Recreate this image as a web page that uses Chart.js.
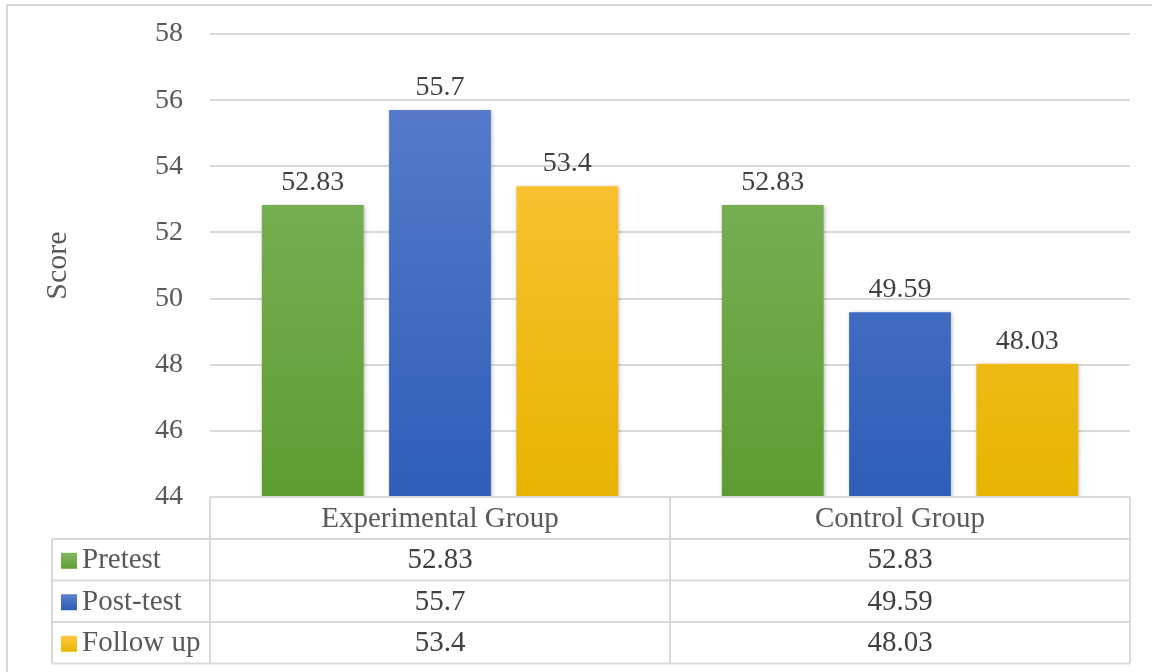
<!DOCTYPE html>
<html>
<head>
<meta charset="utf-8">
<script src="https://cdn.jsdelivr.net/npm/chart.js@4"></script>
<style>
  html, body { margin: 0; padding: 0; background: #fff; }
  #wrap { width: 1152px; height: 672px; position: relative; }
</style>
</head>
<body>
<div id="wrap"><canvas id="scores"></canvas></div>
<script>
// data
const groups = ['Experimental Group', 'Control Group'];
const seriesNames = ['Pretest', 'Post-test', 'Follow up'];
const pretest = [52.83, 52.83];
const posttest = [55.7, 49.59];
const followUp = [53.4, 48.03];
const yTicks = [44, 46, 48, 50, 52, 54, 56, 58];

// colours (top, bottom of each bar gradient)
const palette = [
    ['#83b764', '#5e9d31'],
    ['#5c80cc', '#2e5eb8'],
    ['#ffc846', '#e8b400']
];
const gridColor = '#d9d9d9';
const textColor = '#595959';
const font = '"Liberation Serif", "Times New Roman", serif';

function barGradient(i) {
    return (ctx) => {
        const area = ctx.chart.chartArea;
        if (!area) return palette[i][1];
        const g = ctx.chart.ctx.createLinearGradient(0, area.top, 0, area.bottom);
        g.addColorStop(0, palette[i][0]);
        g.addColorStop(1, palette[i][1]);
        return g;
    };
}

// soft shadow on bars, then labels above them
const valueLabels = {
    id: 'valueLabels',
    beforeDatasetsDraw(chart) {
        const ctx = chart.ctx;
        ctx.save();
        ctx.shadowColor = 'rgba(0,0,0,0.25)';
        ctx.shadowBlur = 4;
        ctx.shadowOffsetX = 1;
        ctx.shadowOffsetY = 1;
    },
    afterDatasetsDraw(chart) {
        const ctx = chart.ctx;
        ctx.restore();
        ctx.save();
        ctx.font = '28px ' + font;
        ctx.fillStyle = '#404040';
        ctx.textAlign = 'center';
        ctx.textBaseline = 'bottom';
        chart.data.datasets.forEach((ds, i) => {
            chart.getDatasetMeta(i).data.forEach((bar, j) => {
                ctx.fillText(String(ds.data[j]), bar.x, bar.y - 8);
            });
        });
        ctx.restore();
    }
};

// data table under the plot + outer frame
const dataTable = {
    id: 'dataTable',
    afterDraw(chart) {
        const ctx = chart.ctx;
        const area = chart.chartArea;
        const x = chart.scales.x;
        const left = 52;
        const headH = 42;
        const rowH = 41.5;
        const top = area.bottom;
        const bottom = top + headH + rowH * seriesNames.length;
        const mid = (x.getPixelForValue(0) + x.getPixelForValue(1)) / 2;

        ctx.save();
        ctx.strokeStyle = gridColor;
        ctx.lineWidth = 2;

        // frame around the whole chart
        ctx.beginPath();
        ctx.moveTo(7, 672);
        ctx.lineTo(7, 5);
        ctx.lineTo(1152, 5);
        ctx.stroke();

        ctx.beginPath();
        ctx.moveTo(area.left, top);
        ctx.lineTo(area.right, top);
        for (let r = 0; r <= seriesNames.length; r++) {
            const y = top + headH + rowH * r;
            ctx.moveTo(left, y);
            ctx.lineTo(area.right, y);
        }
        ctx.moveTo(left, top + headH);
        ctx.lineTo(left, bottom);
        [area.left, mid, area.right].forEach((vx) => {
            ctx.moveTo(vx, top);
            ctx.lineTo(vx, bottom);
        });
        ctx.stroke();

        ctx.font = '29px ' + font;
        ctx.fillStyle = textColor;
        ctx.textBaseline = 'middle';
        ctx.textAlign = 'center';
        groups.forEach((g, j) => {
            ctx.fillText(g, x.getPixelForValue(j), top + headH / 2 + 1);
        });

        chart.data.datasets.forEach((ds, i) => {
            const cy = top + headH + rowH * i + rowH / 2 + 1;
            ctx.fillStyle = textColor;
            ctx.textAlign = 'left';
            ctx.fillText(ds.label, 82, cy);
            const g = ctx.createLinearGradient(0, cy - 8, 0, cy + 8);
            g.addColorStop(0, palette[i][0]);
            g.addColorStop(1, palette[i][1]);
            ctx.fillStyle = g;
            ctx.fillRect(61, cy - 8, 16, 16);
            ctx.fillStyle = '#404040';
            ctx.textAlign = 'center';
            ds.data.forEach((v, j) => {
                ctx.fillText(String(v), x.getPixelForValue(j), cy);
            });
        });
        ctx.restore();
    }
};

new Chart(document.getElementById('scores').getContext('2d'), {
    type: 'bar',
    data: {
        labels: groups,
        datasets: [pretest, posttest, followUp].map((d, i) => ({
            label: seriesNames[i],
            data: d,
            backgroundColor: barGradient(i),
            categoryPercentage: 0.83,
            barPercentage: 0.8
        }))
    },
    options: {
        responsive: true,
        maintainAspectRatio: false,
        animation: false,
        devicePixelRatio: 1,
        layout: { padding: { left: 40, right: 22, top: 34, bottom: 175 } },
        plugins: {
            legend: { display: false },
            tooltip: { enabled: false }
        },
        scales: {
            x: { display: false },
            y: {
                min: 44,
                max: 58,
                afterFit: (s) => {
                    s.width = 170;
                    s.paddingTop = 0;
                    s.paddingBottom = 0;
                },
                afterBuildTicks: (s) => { s.ticks = yTicks.map((v) => ({ value: v })); },
                border: { display: false },
                grid: { color: gridColor, lineWidth: 2, drawTicks: false },
                ticks: {
                    padding: 27,
                    color: textColor,
                    font: { family: font, size: 28 }
                },
                title: {
                    display: true,
                    text: 'Score',
                    color: textColor,
                    font: { family: font, size: 30 },
                    padding: { top: 0, bottom: 0 }
                }
            }
        }
    },
    plugins: [valueLabels, dataTable]
});
</script>
</body>
</html>
